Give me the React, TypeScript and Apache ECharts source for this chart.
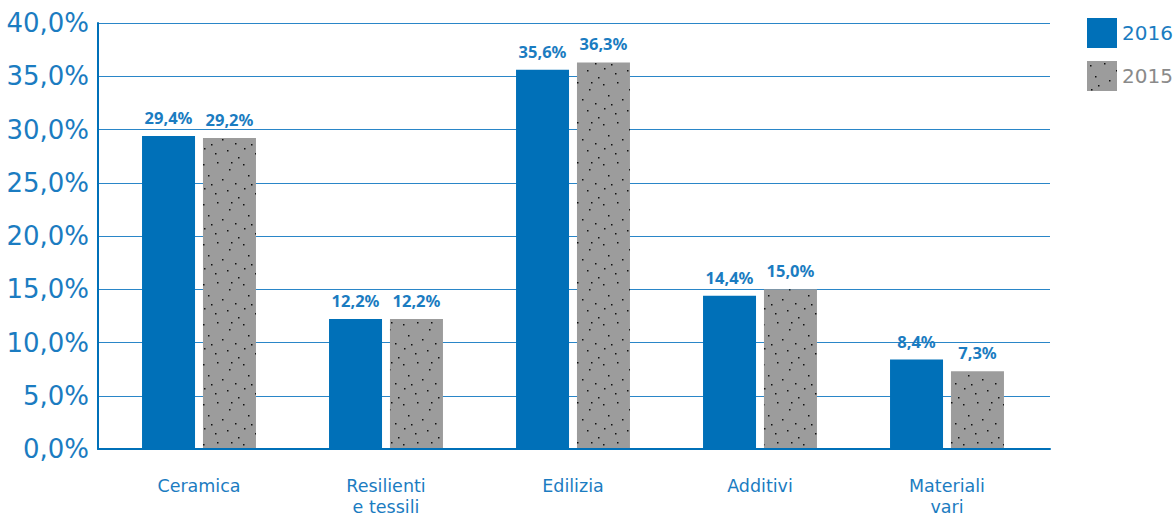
import React, { useEffect, useRef } from "react";
import * as echarts from "echarts";

const categories = ["Ceramica", "Resilienti\ne tessili", "Edilizia", "Additivi", "Materiali\nvari"];
const values2016 = [29.4, 12.2, 35.6, 14.4, 8.4];
const values2015 = [29.2, 12.2, 36.3, 15.0, 7.3];
const seriesNames = ["2016", "2015"];

const BLUE = "#0070b8";
const TEXT_BLUE = "#1b7cc1";
const GRAY = "#9c9c9c";
const FONT = "DejaVu Sans";
const LABEL_FONT = "Noto Sans";

const dots: [number, number][] = [
  [3, 4], [17, 2], [29, 9], [8, 15], [22, 19], [35, 23], [4, 28], [15, 33], [27, 30], [38, 37], [11, 24], [31, 2],
];

function makePattern() {
  const c = document.createElement("canvas");
  c.width = 40;
  c.height = 40;
  const ctx = c.getContext("2d")!;
  ctx.fillStyle = GRAY;
  ctx.fillRect(0, 0, 40, 40);
  ctx.fillStyle = "#111";
  dots.forEach(([x, y]) => ctx.fillRect(x, y, 1.5, 1.5));
  return { image: c, repeat: "repeat", imageWidth: 40, imageHeight: 40 } as any;
}

const fmt = (v: number) => v.toFixed(1).replace(".", ",") + "%";

export default function App() {
  const ref = useRef<HTMLDivElement>(null);
  useEffect(() => {
    document.body.style.margin = "0";
    const chart = echarts.init(ref.current!, null, { renderer: "svg" });
    const pattern = makePattern();
    const labelCfg = {
      show: true,
      position: "top",
      distance: 10,
      fontSize: 16.5,
      fontWeight: "bold",
      color: TEXT_BLUE,
      fontFamily: LABEL_FONT,
      formatter: (p: any) => fmt(p.value),
    };
    chart.setOption({
      animation: false,
      textStyle: { fontFamily: FONT },
      legend: {
        orient: "vertical",
        left: 1082,
        top: 13,
        itemWidth: 30,
        itemHeight: 30,
        itemGap: 13,
        icon: "rect",
        data: [
          { name: seriesNames[0], textStyle: { color: TEXT_BLUE } },
          { name: seriesNames[1], textStyle: { color: "#8a8a8a" } },
        ],
        textStyle: { fontSize: 20, fontFamily: FONT },
      },
      grid: [
        { left: 98, right: 126, top: 23, bottom: 68, outerBoundsMode: "none", containLabel: false },
        { left: 105.5, right: 135.5, top: 23, bottom: 68, outerBoundsMode: "none", containLabel: false },
      ],
      xAxis: [
        {
          type: "category",
          gridIndex: 0,
          data: categories,
          axisLine: { show: true, lineStyle: { color: BLUE, width: 2 } },
          axisTick: { show: false },
          axisLabel: { show: false },
          z: 3,
        },
        {
          type: "category",
          gridIndex: 1,
          data: categories,
          axisLine: { show: false },
          axisTick: { show: false },
          axisLabel: {
            color: TEXT_BLUE,
            fontSize: 17.5,
            lineHeight: 21,
            margin: 26,
            fontFamily: FONT,
          },
        },
      ],
      yAxis: [
        {
          type: "value",
          gridIndex: 0,
          min: 0,
          max: 40,
          interval: 5,
          axisLine: { show: true, lineStyle: { color: BLUE, width: 2 } },
          axisTick: { show: false },
          splitLine: { lineStyle: { color: "#2a86c8", width: 1 } },
          axisLabel: {
            color: TEXT_BLUE,
            fontSize: 26,
            margin: 9,
            fontFamily: FONT,
            formatter: (v: number) => fmt(v),
          },
        },
        {
          type: "value",
          gridIndex: 1,
          min: 0,
          max: 40,
          interval: 5,
          show: false,
          splitLine: { show: false },
        },
      ],
      series: [
        {
          name: seriesNames[0],
          type: "bar",
          xAxisIndex: 1,
          yAxisIndex: 1,
          data: values2016,
          barWidth: 53,
          barGap: "15%",
          itemStyle: { color: BLUE },
          label: labelCfg,
        },
        {
          name: seriesNames[1],
          type: "bar",
          xAxisIndex: 1,
          yAxisIndex: 1,
          data: values2015,
          barWidth: 53,
          barGap: "15%",
          itemStyle: { color: pattern },
          label: labelCfg,
        },
      ],
    });
    return () => chart.dispose();
  }, []);
  return <div ref={ref} style={{ width: 1176, height: 517 }} />;
}
